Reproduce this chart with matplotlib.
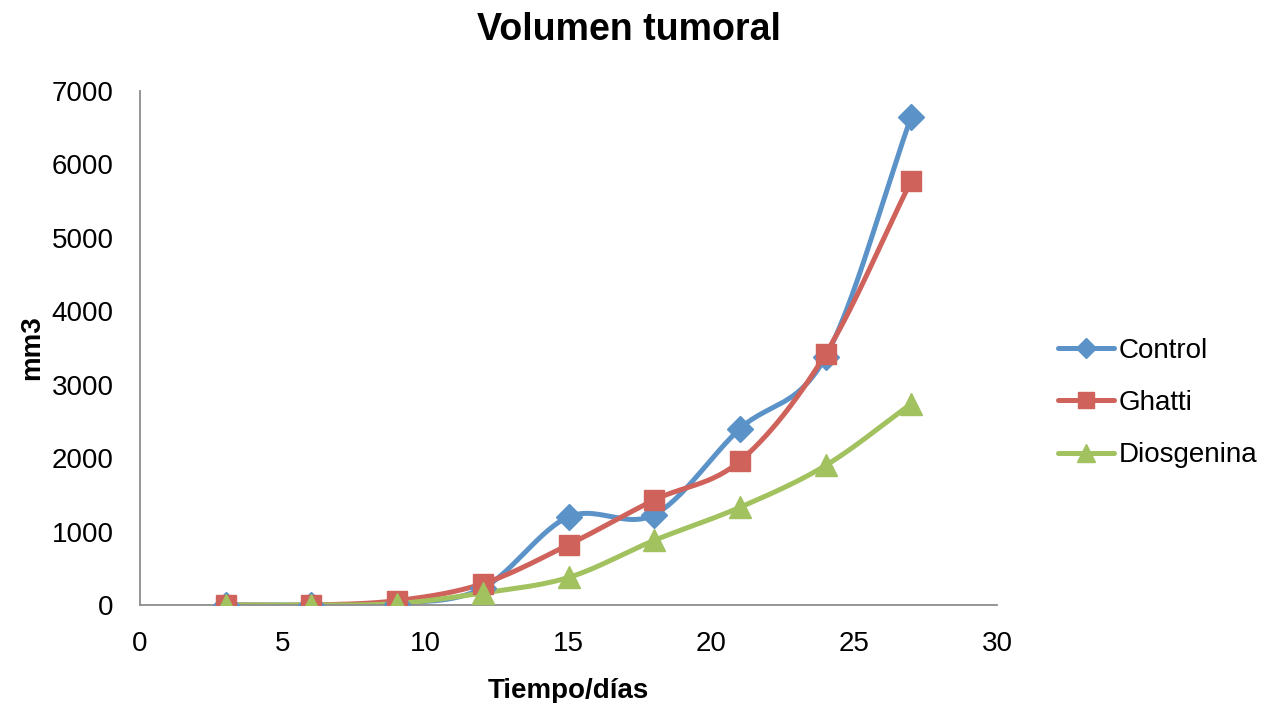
import numpy as np
import matplotlib
matplotlib.use("Agg")
import matplotlib.pyplot as plt
from matplotlib.lines import Line2D

plt.rcParams['font.family'] = ['Liberation Sans', 'DejaVu Sans']

dias = [3, 6, 9, 12, 15, 18, 21, 24, 27]
control = [0, 0, 20, 230, 1200, 1230, 2400, 3380, 6650]
ghatti = [0, 0, 60, 290, 820, 1430, 1960, 3420, 5780]
diosgenina = [0, 0, 20, 165, 375, 880, 1330, 1900, 2740]

series = [
    ("Control", control, "#5b93c9", "D", 13),
    ("Ghatti", ghatti, "#cf625a", "s", 15),
    ("Diosgenina", diosgenina, "#a2c15f", "^", 16),
]


def smooth(x, y, n=30):
    # Catmull-Rom curve through the points, like Excel's smoothed line
    x = np.asarray(x, float)
    y = np.asarray(y, float)
    px = np.concatenate([[2 * x[0] - x[1]], x, [2 * x[-1] - x[-2]]])
    py = np.concatenate([[2 * y[0] - y[1]], y, [2 * y[-1] - y[-2]]])
    xs, ys = [], []
    t = np.linspace(0, 1, n)
    for i in range(1, len(px) - 2):
        for p, out in ((px, xs), (py, ys)):
            p0, p1, p2, p3 = p[i - 1], p[i], p[i + 1], p[i + 2]
            out.append(0.5 * ((2 * p1) + (-p0 + p2) * t
                              + (2 * p0 - 5 * p1 + 4 * p2 - p3) * t ** 2
                              + (-p0 + 3 * p1 - 3 * p2 + p3) * t ** 3))
    return np.concatenate(xs), np.concatenate(ys)


fig = plt.figure(figsize=(12.62, 7.03), dpi=100)
ax = fig.add_axes([0.111, 0.1394, 0.679, 0.7312])

handles = []
for name, vals, color, mk, ms in series:
    sx, sy = smooth(dias, vals)
    ax.plot(sx, sy, color=color, lw=3.6, solid_capstyle='round', zorder=2)
    ax.plot(dias, vals, ls='none', marker=mk, ms=ms, color=color, zorder=3)
    handles.append(Line2D([], [], color=color, lw=3.6, marker=mk, ms=ms - 3,
                          solid_capstyle='round'))

ax.set_xlim(0, 30)
ax.set_ylim(0, 7000)
ax.set_xticks(range(0, 31, 5))
ax.set_yticks(range(0, 7001, 1000))
ax.tick_params(length=0, labelsize=20)
ax.tick_params(axis='x', pad=19)
ax.tick_params(axis='y', pad=19)
for s in ('top', 'right'):
    ax.spines[s].set_visible(False)
for s in ('left', 'bottom'):
    ax.spines[s].set_color('#8c8c8c')
    ax.spines[s].set_linewidth(1.3)

fig.suptitle("Volumen tumoral", x=0.498, y=1 - 30 / 703, va='center',
             fontsize=27, fontweight='bold')
ax.set_xlabel("Tiempo/días", fontsize=20, fontweight='bold', labelpad=15)
ax.set_ylabel("mm3", fontsize=20, fontweight='bold', labelpad=5)

fig.legend(handles, [s[0] for s in series], loc='center left',
           bbox_to_anchor=(1058 / 1262, 1 - 403 / 703), frameon=False,
           fontsize=20, handlelength=2.0, handletextpad=0.2,
           labelspacing=0.95, borderpad=0, borderaxespad=0)

fig.savefig("out.png", dpi=100)
